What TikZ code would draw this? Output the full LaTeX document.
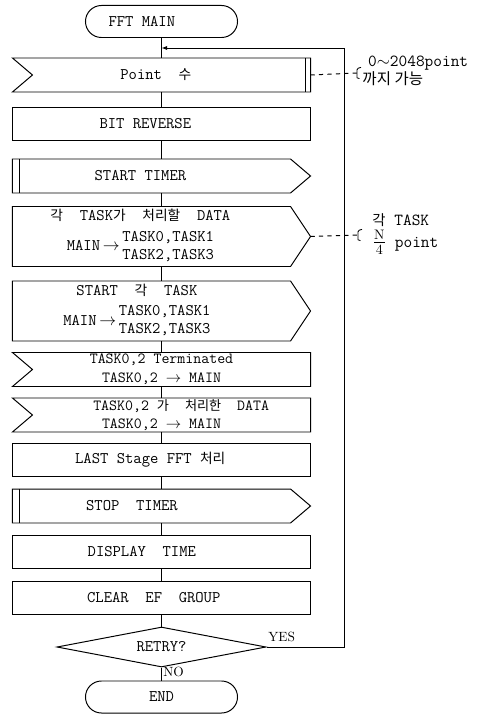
\documentclass[tikz,border=0pt]{standalone}
\usepackage{fontspec}
\newfontfamily\kr[Scale=0.85]{Noto Sans CJK KR}
\usetikzlibrary{shapes.geometric}
\usetikzlibrary{shapes.misc}
\usetikzlibrary{positioning}
\usetikzlibrary{arrows.meta}
\newcommand{\pad}[1]{\hspace*{#1}}

\begin{document}
\begin{tikzpicture}[x=0.025cm, y=-0.025cm, line width=0.7pt,
    every node/.style={font=\ttfamily\fontsize{11.5}{12.6}\selectfont},
    flowbox/.style={minimum width=7.425cm, minimum height=0.825cm, inner sep=0pt},
    tallbox/.style={flowbox, minimum height=1.475cm},
    plainbox/.style={flowbox, draw},
    terminal/.style={draw, rounded rectangle, minimum width=3.8cm, minimum height=0.8cm, inner sep=0pt},
    decision/.style={draw, diamond, aspect=5, minimum width=5.225cm, minimum height=1cm, inner sep=0pt},
    note/.style={align=left, anchor=west, inner sep=0pt},
    answer/.style={font=\rmfamily\fontsize{9.5}{11}\selectfont, inner sep=1pt}]
    \useasboundingbox (0,0) rectangle (482,714);

    % main flow
    \node[terminal] (fftmain) at (161.5,21.5) {FFT MAIN\pad{28pt}};
    \node[flowbox] (point) at (161.5,75) {Point~~{\kr 수}\pad{8pt}};
    \node[plainbox] (bitrev) at (161.5,124) {BIT REVERSE\pad{23pt}};
    \node[flowbox] (starttimer) at (161.5,176) {START TIMER\pad{30pt}};
    \node[tallbox] (dataout) at (161.5,236.5) {\begin{tabular}{@{}c@{}}{\kr 각}~~TASK{\kr 가}~~{\kr 처리할}~~DATA\\[2pt]
        MAIN\,$\rightarrow$\,\begin{tabular}{@{}l@{}}TASK0,TASK1\\TASK2,TASK3\end{tabular}\end{tabular}\pad{30pt}};
    \node[tallbox] (starttask) at (161.5,311) {\begin{tabular}{@{}c@{}}START~~{\kr 각}~~TASK\\[2pt]
        MAIN\,$\rightarrow$\,\begin{tabular}{@{}l@{}}TASK0,TASK1\\TASK2,TASK3\end{tabular}\end{tabular}\pad{35pt}};
    \node[flowbox, align=center, font=\ttfamily\fontsize{11}{13.5}\selectfont] (term) at (161.5,369.5) {TASK0,2 Terminated\\TASK0,2 $\rightarrow$ MAIN};
    \node[flowbox, align=center, font=\ttfamily\fontsize{11}{12.5}\selectfont] (datain) at (161.5,415) {\pad{28pt}TASK0,2 {\kr 가}~~{\kr 처리한}~~DATA\\TASK0,2 $\rightarrow$ MAIN};
    \node[plainbox] (laststage) at (161.5,460) {LAST Stage FFT {\kr 처리}\pad{16pt}};
    \node[flowbox] (stoptimer) at (161.5,506) {STOP~~TIMER\pad{42pt}};
    \node[plainbox] (display) at (161.5,551.5) {DISPLAY~~TIME\pad{28pt}};
    \node[plainbox] (clear) at (161.5,597.5) {CLEAR~~EF~~GROUP\pad{11pt}};
    \node[decision] (retry) at (161.5,647) {RETRY?};
    \node[terminal] (end) at (161.5,697) {END};

    % box outlines
    \foreach \n in {point,term,datain}
      \draw (\n.north west) -- (\n.north east) -- (\n.south east) -- (\n.south west) -- ([xshift=0.5cm]\n.west) -- cycle;
    \foreach \n in {starttimer,dataout,starttask,stoptimer}
      \draw (\n.north west) -- ([xshift=-0.5cm]\n.north east) -- (\n.east) -- ([xshift=-0.5cm]\n.south east) -- (\n.south west) -- cycle;
    \foreach \n in {starttimer,stoptimer}
      \draw ([xshift=0.175cm]\n.north west) -- ([xshift=0.175cm]\n.south west);
    \draw ([xshift=-0.12cm]point.north east) -- ([xshift=-0.12cm]point.south east);

    % connectors
    \foreach \a/\b in {fftmain/point, point/bitrev, bitrev/starttimer, starttimer/dataout, dataout/starttask,
        starttask/term, term/datain, datain/laststage, laststage/stoptimer, stoptimer/display, display/clear, clear/retry}
      \draw (\a.south) -- (\b.north);
    \draw (retry.south) -- node[answer, right, pos=0.35] {NO} (end.north);
    \coordinate (loopcorner) at (344,48);
    \draw[-{Latex[length=4pt]}] (retry.east) -| node[answer, above right, pos=0, yshift=0.08cm] {YES} (loopcorner) -- (loopcorner -| fftmain.south);

    % side notes
    \coordinate (brace1) at (357,73);
    \coordinate (brace2) at (358,235);
    \draw[dashed] (point.east) -- (brace1);
    \draw[dashed] (dataout.east) -- (brace2);
    \foreach \c in {brace1,brace2}
      \draw[line width=0.6pt] ([xshift=0.1cm,yshift=0.14cm]\c) -- ([xshift=0.03cm,yshift=0.12cm]\c) -- ([yshift=0.08cm]\c)
        -- ([yshift=-0.12cm]\c) -- ([xshift=0.06cm,yshift=-0.14cm]\c);
    \node[note, font=\ttfamily\fontsize{12}{11}\selectfont] (range) at (362,71) {\pad{4pt}0$\sim$2048point\\{\kr\fontsize{13}{11}\selectfont 까지~가능}};
    \node[note, font=\ttfamily\fontsize{12}{16}\selectfont] (share) at (372,234) {{\kr 각}~TASK\\{\fontsize{14}{16}\selectfont$\frac{\mathrm{N}}{4}$}~point};
\end{tikzpicture}
\end{document}
